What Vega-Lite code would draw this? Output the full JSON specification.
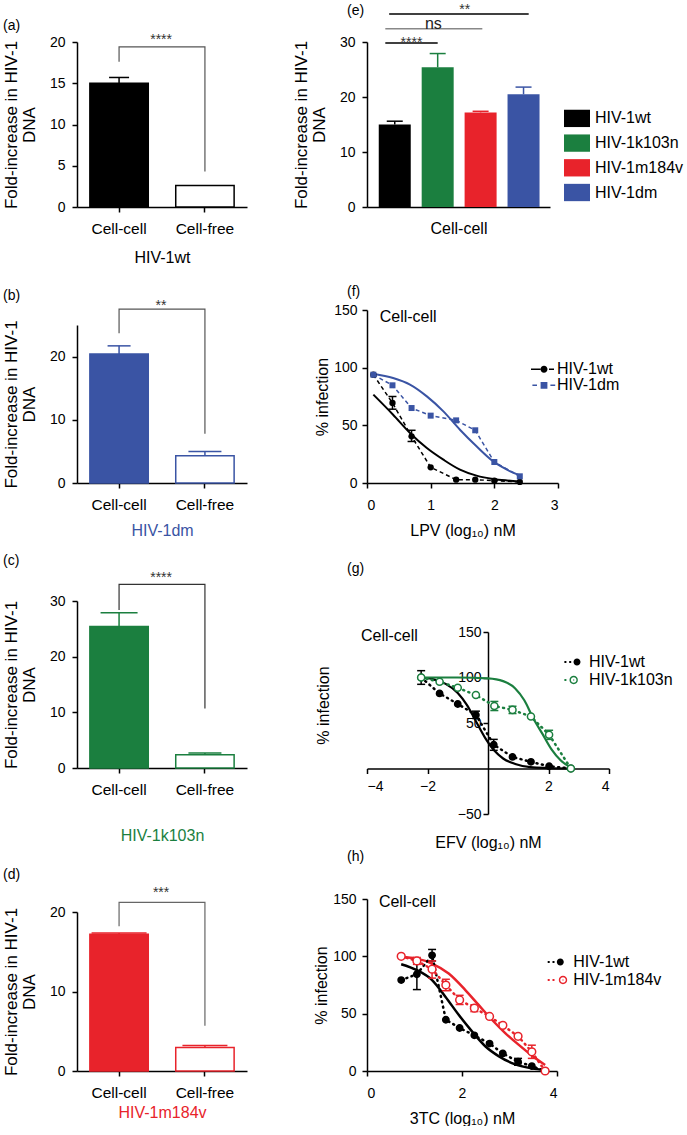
{
"$schema": "https://vega.github.io/schema/vega-lite/v6.json",
"padding": {"left": 2, "top": 3, "right": 0, "bottom": 0},
"background": "white",
"config": {
  "font": "Liberation Sans",
  "view": {"stroke": null},
  "axis": {"grid": false, "domainColor": "#000000", "domainWidth": 1.5, "tickColor": "#000000", "tickWidth": 1.5, "tickSize": 5,
    "labelColor": "#000000", "labelFontSize": 14, "titleFontSize": 16, "titleFontWeight": "normal", "titleColor": "#000000",
    "labelFont": "Liberation Sans", "titleFont": "Liberation Sans", "titleLineHeight": 18},
  "axisX": {"labelAngle": 0, "labelPadding": 9.5},
  "axisY": {"labelPadding": 7},
  "legend": {"padding": 0, "labelFont": "Liberation Sans", "labelColor": "#000000", "labelFontSize": 16},
  "title": {"fontSize": 14, "fontWeight": "normal", "anchor": "start", "frame": "group", "color": "#000000", "font": "Liberation Sans"},
  "text": {"font": "Liberation Sans"}
},
"datasets": {
  "a_bars": [{"condition": "Cell-cell", "value": 15.0, "upper": 15.7}, {"condition": "Cell-free", "value": 2.6}],
  "a_bracket": [{"condition": "Cell-cell", "y": 17.6, "seq": 1}, {"condition": "Cell-cell", "y": 19.4, "seq": 2}, {"condition": "Cell-free", "y": 19.4, "seq": 3}, {"condition": "Cell-free", "y": 4.3, "seq": 4}],
  "a_sig": [{"condition": "Cell-cell", "y": 20.8, "label": "****"}],
  "b_bars": [{"condition": "Cell-cell", "value": 20.4, "upper": 21.7}, {"condition": "Cell-free", "value": 4.3, "upper": 5.0}],
  "b_bracket": [{"condition": "Cell-cell", "y": 23.7, "seq": 1}, {"condition": "Cell-cell", "y": 27.5, "seq": 2}, {"condition": "Cell-free", "y": 27.5, "seq": 3}, {"condition": "Cell-free", "y": 7.8, "seq": 4}],
  "b_sig": [{"condition": "Cell-cell", "y": 28.7, "label": "**"}],
  "c_bars": [{"condition": "Cell-cell", "value": 25.4, "upper": 27.9}, {"condition": "Cell-free", "value": 2.4, "upper": 2.7}],
  "c_bracket": [{"condition": "Cell-cell", "y": 28.4, "seq": 1}, {"condition": "Cell-cell", "y": 33.0, "seq": 2}, {"condition": "Cell-free", "y": 33.0, "seq": 3}, {"condition": "Cell-free", "y": 10.7, "seq": 4}],
  "c_sig": [{"condition": "Cell-cell", "y": 35.0, "label": "****"}],
  "d_bars": [{"condition": "Cell-cell", "value": 17.2, "upper": 17.35}, {"condition": "Cell-free", "value": 2.95, "upper": 3.2}],
  "d_bracket": [{"condition": "Cell-cell", "y": 18.2, "seq": 1}, {"condition": "Cell-cell", "y": 21.2, "seq": 2}, {"condition": "Cell-free", "y": 21.2, "seq": 3}, {"condition": "Cell-free", "y": 5.7, "seq": 4}],
  "d_sig": [{"condition": "Cell-cell", "y": 22.9, "label": "***"}],
  "e_bars": [{"strain": "HIV-1wt", "pos": 1, "value": 15.0, "upper": 15.6}, {"strain": "HIV-1k103n", "pos": 2, "value": 25.4, "upper": 27.9}, {"strain": "HIV-1m184v", "pos": 3, "value": 17.2, "upper": 17.4}, {"strain": "HIV-1dm", "pos": 4, "value": 20.5, "upper": 21.8}],
  "e_sig": [{"x1": 0.78, "x2": 2.0, "y": 29.8, "lx": 1.39, "ly": 30.6, "label": "****"}, {"x1": 0.78, "x2": 3.04, "y": 32.4, "lx": 1.9, "ly": 33.4, "label": "ns"}, {"x1": 0.87, "x2": 4.12, "y": 35.1, "lx": 2.63, "ly": 36.6, "label": "**"}],
  "f_fit": [
    {"strain": "HIV-1wt", "x": 0.1, "y": 76.6}, {"strain": "HIV-1wt", "x": 0.41, "y": 59.2}, {"strain": "HIV-1wt", "x": 0.675, "y": 43.4}, {"strain": "HIV-1wt", "x": 0.94, "y": 30.3}, {"strain": "HIV-1wt", "x": 1.2, "y": 20.2}, {"strain": "HIV-1wt", "x": 1.46, "y": 11.6}, {"strain": "HIV-1wt", "x": 1.72, "y": 6.4}, {"strain": "HIV-1wt", "x": 1.98, "y": 3.5}, {"strain": "HIV-1wt", "x": 2.2, "y": 2.2}, {"strain": "HIV-1wt", "x": 2.4, "y": 1.4},
    {"strain": "HIV-1dm", "x": 0.1, "y": 94.8}, {"strain": "HIV-1dm", "x": 0.41, "y": 91}, {"strain": "HIV-1dm", "x": 0.675, "y": 85.3}, {"strain": "HIV-1dm", "x": 0.94, "y": 75.1}, {"strain": "HIV-1dm", "x": 1.2, "y": 62.1}, {"strain": "HIV-1dm", "x": 1.46, "y": 46.2}, {"strain": "HIV-1dm", "x": 1.72, "y": 31.8}, {"strain": "HIV-1dm", "x": 1.98, "y": 18.8}, {"strain": "HIV-1dm", "x": 2.25, "y": 10.1}, {"strain": "HIV-1dm", "x": 2.4, "y": 6.6}],
  "f_pts": [
    {"strain": "HIV-1wt", "x": 0.1, "y": 93.9}, {"strain": "HIV-1wt", "x": 0.4, "y": 69.4, "lo": 64, "hi": 75}, {"strain": "HIV-1wt", "x": 0.7, "y": 40.5, "lo": 36, "hi": 45.7}, {"strain": "HIV-1wt", "x": 1.0, "y": 13.6}, {"strain": "HIV-1wt", "x": 1.4, "y": 2.9}, {"strain": "HIV-1wt", "x": 1.7, "y": 2.9}, {"strain": "HIV-1wt", "x": 2.0, "y": 2.0}, {"strain": "HIV-1wt", "x": 2.4, "y": 0.9},
    {"strain": "HIV-1dm", "x": 0.1, "y": 93.9}, {"strain": "HIV-1dm", "x": 0.4, "y": 84.7}, {"strain": "HIV-1dm", "x": 0.7, "y": 65}, {"strain": "HIV-1dm", "x": 1.0, "y": 58.4}, {"strain": "HIV-1dm", "x": 1.4, "y": 54.3}, {"strain": "HIV-1dm", "x": 1.7, "y": 45.7}, {"strain": "HIV-1dm", "x": 2.0, "y": 18.2}, {"strain": "HIV-1dm", "x": 2.4, "y": 5.8}],
  "g_fit": [
    {"strain": "HIV-1wt", "x": -2.2, "y": 100}, {"strain": "HIV-1wt", "x": -1.8, "y": 98}, {"strain": "HIV-1wt", "x": -1.4, "y": 93}, {"strain": "HIV-1wt", "x": -1.0, "y": 83}, {"strain": "HIV-1wt", "x": -0.7, "y": 70}, {"strain": "HIV-1wt", "x": -0.4, "y": 52}, {"strain": "HIV-1wt", "x": -0.1, "y": 34}, {"strain": "HIV-1wt", "x": 0.2, "y": 20}, {"strain": "HIV-1wt", "x": 0.5, "y": 11}, {"strain": "HIV-1wt", "x": 0.9, "y": 5}, {"strain": "HIV-1wt", "x": 1.4, "y": 1.5}, {"strain": "HIV-1wt", "x": 2.0, "y": 0.5}, {"strain": "HIV-1wt", "x": 2.74, "y": 0},
    {"strain": "HIV-1k103n", "x": -2.2, "y": 100}, {"strain": "HIV-1k103n", "x": -1.0, "y": 100}, {"strain": "HIV-1k103n", "x": 0, "y": 99}, {"strain": "HIV-1k103n", "x": 0.5, "y": 96}, {"strain": "HIV-1k103n", "x": 0.9, "y": 88}, {"strain": "HIV-1k103n", "x": 1.2, "y": 75}, {"strain": "HIV-1k103n", "x": 1.5, "y": 55}, {"strain": "HIV-1k103n", "x": 1.8, "y": 38}, {"strain": "HIV-1k103n", "x": 2.1, "y": 21}, {"strain": "HIV-1k103n", "x": 2.4, "y": 9}, {"strain": "HIV-1k103n", "x": 2.74, "y": 1}],
  "g_pts": [
    {"strain": "HIV-1wt", "x": -2.21, "y": 100, "lo": 92.5, "hi": 107.5}, {"strain": "HIV-1wt", "x": -1.6, "y": 82.5}, {"strain": "HIV-1wt", "x": -1.0, "y": 70.9}, {"strain": "HIV-1wt", "x": -0.4, "y": 58.9, "lo": 55, "hi": 63}, {"strain": "HIV-1wt", "x": 0.19, "y": 26.2, "lo": 20, "hi": 32}, {"strain": "HIV-1wt", "x": 0.81, "y": 12.7}, {"strain": "HIV-1wt", "x": 1.42, "y": 7.3}, {"strain": "HIV-1wt", "x": 2.02, "y": 2.5}, {"strain": "HIV-1wt", "x": 2.74, "y": 0},
    {"strain": "HIV-1k103n", "x": -2.21, "y": 100}, {"strain": "HIV-1k103n", "x": -1.6, "y": 95.3}, {"strain": "HIV-1k103n", "x": -1.0, "y": 88.7}, {"strain": "HIV-1k103n", "x": -0.4, "y": 80.7}, {"strain": "HIV-1k103n", "x": 0.21, "y": 68.7, "lo": 63.7, "hi": 73.7}, {"strain": "HIV-1k103n", "x": 0.81, "y": 64.4, "lo": 60.4, "hi": 68.4}, {"strain": "HIV-1k103n", "x": 1.42, "y": 57.1}, {"strain": "HIV-1k103n", "x": 2.02, "y": 37.1, "lo": 32, "hi": 42}, {"strain": "HIV-1k103n", "x": 2.74, "y": 0}],
  "h_fit": [
    {"strain": "HIV-1wt", "x": 0.72, "y": 93.1}, {"strain": "HIV-1wt", "x": 1.05, "y": 87.9}, {"strain": "HIV-1wt", "x": 1.37, "y": 79.3}, {"strain": "HIV-1wt", "x": 1.65, "y": 64.8}, {"strain": "HIV-1wt", "x": 1.93, "y": 49}, {"strain": "HIV-1wt", "x": 2.21, "y": 34.6}, {"strain": "HIV-1wt", "x": 2.49, "y": 21.6}, {"strain": "HIV-1wt", "x": 2.77, "y": 13}, {"strain": "HIV-1wt", "x": 3.12, "y": 5.8}, {"strain": "HIV-1wt", "x": 3.47, "y": 2.3}, {"strain": "HIV-1wt", "x": 3.75, "y": 0.9},
    {"strain": "HIV-1m184v", "x": 0.72, "y": 99.4}, {"strain": "HIV-1m184v", "x": 1.05, "y": 98}, {"strain": "HIV-1m184v", "x": 1.37, "y": 93.7}, {"strain": "HIV-1m184v", "x": 1.72, "y": 85}, {"strain": "HIV-1m184v", "x": 2.07, "y": 70.6}, {"strain": "HIV-1m184v", "x": 2.35, "y": 57.6}, {"strain": "HIV-1m184v", "x": 2.63, "y": 44.7}, {"strain": "HIV-1m184v", "x": 2.91, "y": 33.1}, {"strain": "HIV-1m184v", "x": 3.19, "y": 23}, {"strain": "HIV-1m184v", "x": 3.47, "y": 13.5}, {"strain": "HIV-1m184v", "x": 3.75, "y": 5.2}],
  "h_pts": [
    {"strain": "HIV-1wt", "x": 0.72, "y": 79.3}, {"strain": "HIV-1wt", "x": 1.05, "y": 84.4, "lo": 71, "hi": 97.5}, {"strain": "HIV-1wt", "x": 1.37, "y": 100.9, "lo": 96, "hi": 106}, {"strain": "HIV-1wt", "x": 1.66, "y": 44.7}, {"strain": "HIV-1wt", "x": 1.95, "y": 37.5}, {"strain": "HIV-1wt", "x": 2.26, "y": 31.1}, {"strain": "HIV-1wt", "x": 2.58, "y": 23.9}, {"strain": "HIV-1wt", "x": 2.86, "y": 15.3}, {"strain": "HIV-1wt", "x": 3.18, "y": 8.1, "lo": 5, "hi": 11}, {"strain": "HIV-1wt", "x": 3.47, "y": 4.3}, {"strain": "HIV-1wt", "x": 3.75, "y": 0},
    {"strain": "HIV-1m184v", "x": 0.72, "y": 100}, {"strain": "HIV-1m184v", "x": 1.05, "y": 96, "lo": 93, "hi": 99}, {"strain": "HIV-1m184v", "x": 1.37, "y": 88.8, "lo": 81, "hi": 96}, {"strain": "HIV-1m184v", "x": 1.66, "y": 75, "lo": 70, "hi": 80}, {"strain": "HIV-1m184v", "x": 1.95, "y": 62, "lo": 58, "hi": 66}, {"strain": "HIV-1m184v", "x": 2.26, "y": 54.8, "lo": 51.8, "hi": 57.8}, {"strain": "HIV-1m184v", "x": 2.58, "y": 47.6}, {"strain": "HIV-1m184v", "x": 2.86, "y": 39.8}, {"strain": "HIV-1m184v", "x": 3.18, "y": 30.3}, {"strain": "HIV-1m184v", "x": 3.47, "y": 16.7, "lo": 11, "hi": 22.5}, {"strain": "HIV-1m184v", "x": 3.75, "y": 0}]
},
"bounds": "flush",
"spacing": 290,
"resolve": {"scale": {"color": "independent", "shape": "independent"}, "legend": {"color": "independent", "shape": "independent"}},
"hconcat": [
 {"bounds": "flush", "spacing": 870, "vconcat": [
  {"bounds": "flush", "spacing": 118, "vconcat": [
   {"width": 170, "height": 165, "title": {"text": "(a)", "dx": -74, "offset": 2, "dy": 2},
    "layer": [
     {"data": {"name": "a_bars"}, "mark": {"type": "bar", "strokeWidth": 1.5},
      "encoding": {
       "x": {"field": "condition", "type": "nominal", "scale": {"paddingInner": 0.32, "paddingOuter": 0.15}, "axis": {"title": "HIV-1wt", "titlePadding": 12, "titleColor": "#000000", "labelFontSize": 15.5}},
       "y": {"field": "value", "type": "quantitative", "scale": {"domain": [0, 20], "nice": false}, "axis": {"values": [0, 5, 10, 15, 20], "title": ["Fold-increase in HIV-1", "DNA"], "titleFontSize": 17, "titlePadding": 11}},
       "fill": {"condition": {"test": "datum.condition === 'Cell-cell'", "value": "#000000"}, "value": "#ffffff"},
       "stroke": {"value": "#000000"}}},
     {"data": {"name": "a_bars"}, "transform": [{"filter": "isValid(datum.upper)"}], "mark": {"type": "rule", "strokeWidth": 1.5, "color": "#000000"},
      "encoding": {"x": {"field": "condition", "type": "nominal"}, "y": {"field": "value", "type": "quantitative"}, "y2": {"field": "upper"}}},
     {"data": {"name": "a_bars"}, "transform": [{"filter": "isValid(datum.upper)"}], "mark": {"type": "tick", "orient": "horizontal", "size": 20, "thickness": 1.5, "color": "#000000", "opacity": 1},
      "encoding": {"x": {"field": "condition", "type": "nominal"}, "y": {"field": "upper", "type": "quantitative"}}},
     {"data": {"name": "a_bracket"}, "mark": {"type": "line", "color": "#555555", "strokeWidth": 1.2},
      "encoding": {"x": {"field": "condition", "type": "nominal"}, "y": {"field": "y", "type": "quantitative"}, "order": {"field": "seq", "type": "quantitative"}}},
     {"data": {"name": "a_sig"}, "mark": {"type": "text", "fontSize": 14, "dx": 42, "dy": 4.5, "color": "#333333"},
      "encoding": {"x": {"field": "condition", "type": "nominal"}, "y": {"field": "y", "type": "quantitative"}, "text": {"field": "label"}}}
    ]},
   {"width": 170, "height": 158, "title": {"text": "(b)", "dx": -74, "offset": 2, "dy": 6},
    "layer": [
     {"data": {"name": "b_bars"}, "mark": {"type": "bar", "strokeWidth": 1.5},
      "encoding": {
       "x": {"field": "condition", "type": "nominal", "scale": {"paddingInner": 0.32, "paddingOuter": 0.15}, "axis": {"title": "HIV-1dm", "titlePadding": 9, "titleColor": "#3A54A4", "labelFontSize": 15.5}},
       "y": {"field": "value", "type": "quantitative", "scale": {"domain": [0, 25], "nice": false}, "axis": {"values": [0, 5, 10, 15, 20, 25], "title": ["Fold-increase in HIV-1", "DNA"], "titleFontSize": 17, "titlePadding": 11}},
       "fill": {"condition": {"test": "datum.condition === 'Cell-cell'", "value": "#3A54A4"}, "value": "#ffffff"},
       "stroke": {"value": "#3A54A4"}}},
     {"data": {"name": "b_bars"}, "transform": [{"filter": "isValid(datum.upper)"}], "mark": {"type": "rule", "strokeWidth": 1.5, "color": "#3A54A4"},
      "encoding": {"x": {"field": "condition", "type": "nominal"}, "y": {"field": "value", "type": "quantitative"}, "y2": {"field": "upper"}}},
     {"data": {"name": "b_bars"}, "transform": [{"filter": "isValid(datum.upper)"}], "mark": {"type": "tick", "orient": "horizontal", "thickness": 1.5, "color": "#3A54A4", "opacity": 1},
      "encoding": {"x": {"field": "condition", "type": "nominal"}, "y": {"field": "upper", "type": "quantitative"}, "size": {"condition": {"test": "datum.condition === 'Cell-cell'", "value": 23}, "value": 33}}},
     {"data": {"name": "b_bracket"}, "mark": {"type": "line", "color": "#555555", "strokeWidth": 1.2},
      "encoding": {"x": {"field": "condition", "type": "nominal"}, "y": {"field": "y", "type": "quantitative"}, "order": {"field": "seq", "type": "quantitative"}}},
     {"data": {"name": "b_sig"}, "mark": {"type": "text", "fontSize": 14, "dx": 42, "dy": 4.5, "color": "#333333"},
      "encoding": {"x": {"field": "condition", "type": "nominal"}, "y": {"field": "y", "type": "quantitative"}, "text": {"field": "label"}}}
    ]},
   {"width": 170, "height": 167, "title": {"text": "(c)", "dx": -74, "offset": 2, "dy": -1},
    "layer": [
     {"data": {"name": "c_bars"}, "mark": {"type": "bar", "strokeWidth": 1.5},
      "encoding": {
       "x": {"field": "condition", "type": "nominal", "scale": {"paddingInner": 0.32, "paddingOuter": 0.15}, "axis": {"title": "HIV-1k103n", "titlePadding": 29, "titleColor": "#1B7F3F", "labelFontSize": 15.5}},
       "y": {"field": "value", "type": "quantitative", "scale": {"domain": [0, 30], "nice": false}, "axis": {"values": [0, 5, 10, 15, 20, 25, 30], "title": ["Fold-increase in HIV-1", "DNA"], "titleFontSize": 17, "titlePadding": 11}},
       "fill": {"condition": {"test": "datum.condition === 'Cell-cell'", "value": "#1B7F3F"}, "value": "#ffffff"},
       "stroke": {"value": "#1B7F3F"}}},
     {"data": {"name": "c_bars"}, "transform": [{"filter": "isValid(datum.upper)"}], "mark": {"type": "rule", "strokeWidth": 1.5, "color": "#1B7F3F"},
      "encoding": {"x": {"field": "condition", "type": "nominal"}, "y": {"field": "value", "type": "quantitative"}, "y2": {"field": "upper"}}},
     {"data": {"name": "c_bars"}, "transform": [{"filter": "isValid(datum.upper)"}], "mark": {"type": "tick", "orient": "horizontal", "thickness": 1.5, "color": "#1B7F3F", "opacity": 1},
      "encoding": {"x": {"field": "condition", "type": "nominal"}, "y": {"field": "upper", "type": "quantitative"}, "size": {"condition": {"test": "datum.condition === 'Cell-cell'", "value": 37}, "value": 33}}},
     {"data": {"name": "c_bracket"}, "mark": {"type": "line", "color": "#333333", "strokeWidth": 1.2},
      "encoding": {"x": {"field": "condition", "type": "nominal"}, "y": {"field": "y", "type": "quantitative"}, "order": {"field": "seq", "type": "quantitative"}}},
     {"data": {"name": "c_sig"}, "mark": {"type": "text", "fontSize": 14, "dx": 42, "dy": 4.5, "color": "#333333"},
      "encoding": {"x": {"field": "condition", "type": "nominal"}, "y": {"field": "y", "type": "quantitative"}, "text": {"field": "label"}}}
    ]}
  ]},
  {"width": 170, "height": 159, "title": {"text": "(d)", "dx": -74, "offset": 2, "dy": -2},
   "layer": [
    {"data": {"name": "d_bars"}, "mark": {"type": "bar", "strokeWidth": 1.5},
     "encoding": {
      "x": {"field": "condition", "type": "nominal", "scale": {"paddingInner": 0.32, "paddingOuter": 0.15}, "axis": {"title": "HIV-1m184v", "titlePadding": 3, "titleColor": "#E8232B", "labelFontSize": 15.5}},
      "y": {"field": "value", "type": "quantitative", "scale": {"domain": [0, 20], "nice": false}, "axis": {"values": [0, 5, 10, 15, 20], "title": ["Fold-increase in HIV-1", "DNA"], "titleFontSize": 17, "titlePadding": 11}},
      "fill": {"condition": {"test": "datum.condition === 'Cell-cell'", "value": "#E8232B"}, "value": "#ffffff"},
      "stroke": {"value": "#E8232B"}}},
    {"data": {"name": "d_bars"}, "transform": [{"filter": "isValid(datum.upper)"}], "mark": {"type": "rule", "strokeWidth": 1.5, "color": "#E8232B"},
     "encoding": {"x": {"field": "condition", "type": "nominal"}, "y": {"field": "value", "type": "quantitative"}, "y2": {"field": "upper"}}},
    {"data": {"name": "d_bars"}, "transform": [{"filter": "isValid(datum.upper)"}], "mark": {"type": "tick", "orient": "horizontal", "thickness": 1.5, "color": "#E8232B", "opacity": 1},
     "encoding": {"x": {"field": "condition", "type": "nominal"}, "y": {"field": "upper", "type": "quantitative"}, "size": {"condition": {"test": "datum.condition === 'Cell-cell'", "value": 55}, "value": 45}}},
    {"data": {"name": "d_bracket"}, "mark": {"type": "line", "color": "#666666", "strokeWidth": 1.2},
     "encoding": {"x": {"field": "condition", "type": "nominal"}, "y": {"field": "y", "type": "quantitative"}, "order": {"field": "seq", "type": "quantitative"}}},
    {"data": {"name": "d_sig"}, "mark": {"type": "text", "fontSize": 14, "dx": 42, "dy": 4.5, "color": "#333333"},
     "encoding": {"x": {"field": "condition", "type": "nominal"}, "y": {"field": "y", "type": "quantitative"}, "text": {"field": "label"}}}
   ]}
 ]},
 {"bounds": "flush", "spacing": 590,
  "resolve": {"scale": {"color": "independent", "shape": "independent"}, "legend": {"color": "independent", "shape": "independent"}},
  "vconcat": [
  {"bounds": "flush", "spacing": 103,
   "resolve": {"scale": {"color": "independent", "shape": "independent"}, "legend": {"color": "independent", "shape": "independent"}},
   "vconcat": [
   {"width": 183, "height": 165, "title": {"text": "(e)", "dx": -20, "offset": 2, "dy": 17},
    "layer": [
     {"data": {"name": "e_bars"}, "mark": {"type": "bar", "width": 32, "orient": "vertical", "opacity": 1},
      "encoding": {
       "x": {"field": "pos", "type": "quantitative", "scale": {"domain": [0.47, 4.5], "nice": false, "zero": false}, "axis": {"title": "Cell-cell", "labels": false, "ticks": false, "titlePadding": 13.5}},
       "y": {"field": "value", "type": "quantitative", "scale": {"domain": [0, 30], "nice": false}, "axis": {"values": [0, 5, 10, 15, 20, 25, 30], "title": ["Fold-increase in HIV-1", "DNA"], "titleFontSize": 17, "titlePadding": 11}},
       "color": {"field": "strain", "type": "nominal", "scale": {"domain": ["HIV-1wt", "HIV-1k103n", "HIV-1m184v", "HIV-1dm"], "range": ["#000000", "#1B7F3F", "#E8232B", "#3A54A4"]},
        "legend": {"title": null, "orient": "none", "legendX": 201, "legendY": 67.4, "symbolType": "M-1.5,-1H1.5V1H-1.5Z", "symbolSize": 300, "symbolStrokeWidth": 0, "symbolOpacity": 1, "labelFontSize": 16, "labelOffset": 9, "rowPadding": 6.7}}}},
     {"data": {"name": "e_bars"}, "mark": {"type": "rule", "strokeWidth": 1.5, "opacity": 1},
      "encoding": {"x": {"field": "pos", "type": "quantitative"}, "y": {"field": "value", "type": "quantitative"}, "y2": {"field": "upper"}, "color": {"field": "strain", "type": "nominal"}}},
     {"data": {"name": "e_bars"}, "mark": {"type": "tick", "orient": "horizontal", "size": 16, "thickness": 1.5, "opacity": 1},
      "encoding": {"x": {"field": "pos", "type": "quantitative"}, "y": {"field": "upper", "type": "quantitative"}, "color": {"field": "strain", "type": "nominal"}}},
     {"data": {"name": "e_sig"}, "mark": {"type": "rule", "strokeWidth": 1.5},
      "encoding": {"x": {"field": "x1", "type": "quantitative"}, "x2": {"field": "x2"}, "y": {"field": "y", "type": "quantitative"},
       "stroke": {"condition": {"test": "datum.label === 'ns'", "value": "#888888"}, "value": "#000000"}}},
     {"data": {"name": "e_sig"}, "transform": [{"filter": "datum.label !== 'ns'"}], "mark": {"type": "text", "fontSize": 14, "dy": 4.5, "color": "#333333"},
      "encoding": {"x": {"field": "lx", "type": "quantitative"}, "y": {"field": "ly", "type": "quantitative"}, "text": {"field": "label"}}},
     {"data": {"name": "e_sig"}, "transform": [{"filter": "datum.label === 'ns'"}], "mark": {"type": "text", "fontSize": 16, "dy": 1, "color": "#222222"},
      "encoding": {"x": {"field": "lx", "type": "quantitative"}, "y": {"field": "ly", "type": "quantitative"}, "text": {"field": "label"}}}
    ]},
   {"width": 191, "height": 173, "title": {"text": "(f)", "dx": -20, "offset": 2, "dy": -2},
    "encoding": {
     "x": {"field": "x", "type": "quantitative", "scale": {"domain": [0, 3], "nice": false, "zero": false}, "axis": {"values": [0, 1, 2, 3], "title": "LPV (log₁₀) nM", "titlePadding": 10, "labelPadding": 10}},
     "y": {"field": "y", "type": "quantitative", "scale": {"domain": [0, 150], "nice": false}, "axis": {"values": [0, 50, 100, 150], "title": "% infection", "titlePadding": 3, "labelPadding": 5}},
     "color": {"field": "strain", "type": "nominal", "scale": {"domain": ["HIV-1wt", "HIV-1dm"], "range": ["#000000", "#3A54A4"]},
      "legend": {"title": null, "orient": "none", "legendX": 169, "legendY": 51.3, "symbolSize": 64, "symbolStrokeWidth": 0, "symbolOpacity": 1, "labelFontSize": 16, "labelOffset": 5, "rowPadding": -1}}
    },
    "layer": [
     {"data": {"name": "f_pts"}, "mark": {"type": "point", "filled": true, "opacity": 0, "size": 64},
      "encoding": {"shape": {"field": "strain", "type": "nominal", "legend": null, "scale": {"domain": ["HIV-1wt", "HIV-1dm"], "range": [
        "M-3.25,-0.19H-0.9V0.19H-3.25ZM1.25,-0.19H2.5V0.19H1.25ZM-0.875,0A0.875,0.875,0,1,1,0.875,0A0.875,0.875,0,1,1,-0.875,0Z",
        "M-2.9,-0.19H-1.75V0.19H-2.9ZM1.6,-0.19H2.8V0.19H1.6ZM-0.85,-0.85H0.85V0.85H-0.85Z"]}}}},
     {"data": {"name": "f_fit"}, "mark": {"type": "line", "strokeWidth": 2, "interpolate": "monotone"}},
     {"data": {"name": "f_pts"}, "mark": {"type": "line", "strokeWidth": 1.5, "strokeDash": [4, 3]}},
     {"data": {"name": "f_pts"}, "transform": [{"filter": "isValid(datum.lo)"}], "mark": {"type": "rule", "strokeWidth": 1.5},
      "encoding": {"y": {"field": "lo", "type": "quantitative"}, "y2": {"field": "hi"}}},
     {"data": {"name": "f_pts"}, "transform": [{"filter": "isValid(datum.lo)"}, {"fold": ["lo", "hi"], "as": ["end", "ev"]}], "mark": {"type": "tick", "orient": "horizontal", "size": 8, "thickness": 1.5, "opacity": 1},
      "encoding": {"y": {"field": "ev", "type": "quantitative"}}},
     {"data": {"name": "f_pts"}, "transform": [{"filter": "datum.strain === 'HIV-1wt'"}], "mark": {"type": "point", "filled": true, "opacity": 1, "shape": "circle", "size": 40}},
     {"data": {"name": "f_pts"}, "transform": [{"filter": "datum.strain === 'HIV-1dm'"}], "mark": {"type": "point", "filled": true, "opacity": 1, "shape": "square", "size": 36}},
     {"data": {"values": [{"x": 0.2, "y": 144, "label": "Cell-cell"}]}, "mark": {"type": "text", "align": "left", "baseline": "middle", "fontSize": 16},
      "encoding": {"text": {"field": "label"}, "color": {"value": "#000000"}}}
    ]}
  ]},
  {"bounds": "flush", "spacing": 85,
   "resolve": {"scale": {"color": "independent", "shape": "independent"}, "legend": {"color": "independent", "shape": "independent"}},
   "vconcat": [
   {"width": 242, "height": 182, "title": {"text": "(g)", "dx": -20, "offset": 2, "dy": -47},
    "encoding": {
     "x": {"field": "x", "type": "quantitative", "scale": {"domain": [-4, 4], "nice": false, "zero": false}, "axis": {"values": [-4, -2, 2, 4], "offset": -45.5, "title": "EFV (log₁₀) nM", "titlePadding": 41, "labelPadding": 6}},
     "y": {"field": "y", "type": "quantitative", "scale": {"domain": [-50, 150], "nice": false}, "axis": {"values": [-50, 50, 100, 150], "offset": -121, "title": "% infection", "labelPadding": 2, "titleX": -157, "titleY": 73}},
     "color": {"field": "strain", "type": "nominal", "scale": {"domain": ["HIV-1wt", "HIV-1k103n"], "range": ["#000000", "#1B7F3F"]},
      "legend": {"title": null, "orient": "none", "legendX": 202, "legendY": 22, "symbolSize": 64, "symbolStrokeWidth": 0, "symbolOpacity": 1, "labelFontSize": 16, "labelOffset": 4, "rowPadding": 2}}
    },
    "layer": [
     {"data": {"name": "g_pts"}, "mark": {"type": "point", "filled": true, "opacity": 0, "size": 64},
      "encoding": {"shape": {"field": "strain", "type": "nominal", "legend": null, "scale": {"domain": ["HIV-1wt", "HIV-1k103n"], "range": [
        "M-3.15,-0.25h0.5v0.5h-0.5zM-1.95,-0.25h0.5v0.5h-0.5zM-0.875,0A0.875,0.875,0,1,1,0.875,0A0.875,0.875,0,1,1,-0.875,0Z",
        "M-3.15,-0.25h0.5v0.5h-0.5zM-1.88,0A1.05,1.05,0,1,1,0.22,0A1.05,1.05,0,1,1,-1.88,0ZM-1.53,0A0.7,0.7,0,1,0,-0.13,0A0.7,0.7,0,1,0,-1.53,0ZM-0.98,-0.15h0.3v0.3h-0.3z"]}}}},
     {"data": {"name": "g_fit"}, "mark": {"type": "line", "strokeWidth": 2.2, "interpolate": "monotone"}},
     {"data": {"name": "g_pts"}, "mark": {"type": "line", "strokeWidth": 2.5, "strokeDash": [1, 4.5], "strokeCap": "round"}},
     {"data": {"name": "g_pts"}, "transform": [{"filter": "isValid(datum.lo)"}], "mark": {"type": "rule", "strokeWidth": 1.5},
      "encoding": {"y": {"field": "lo", "type": "quantitative"}, "y2": {"field": "hi"}}},
     {"data": {"name": "g_pts"}, "transform": [{"filter": "isValid(datum.lo)"}, {"fold": ["lo", "hi"], "as": ["end", "ev"]}], "mark": {"type": "tick", "orient": "horizontal", "size": 8, "thickness": 1.5, "opacity": 1},
      "encoding": {"y": {"field": "ev", "type": "quantitative"}}},
     {"data": {"name": "g_pts"}, "mark": {"type": "point", "filled": false, "opacity": 1, "strokeWidth": 1.5, "shape": "circle"},
      "encoding": {"fill": {"condition": {"test": "datum.strain === 'HIV-1wt'", "value": "#000000"}, "value": "#ffffff"},
       "size": {"condition": {"test": "datum.strain === 'HIV-1wt'", "value": 40}, "value": 50}}},
     {"data": {"values": [{"x": -4.2, "y": 146, "label": "Cell-cell"}]}, "mark": {"type": "text", "align": "left", "baseline": "middle", "fontSize": 16},
      "encoding": {"text": {"field": "label"}, "color": {"value": "#000000"}}}
    ]},
   {"width": 190, "height": 172, "title": {"text": "(h)", "dx": -20, "offset": 2, "dy": -26},
    "encoding": {
     "x": {"field": "x", "type": "quantitative", "scale": {"domain": [0, 4], "nice": false, "zero": false}, "axis": {"values": [0, 2, 4], "title": "3TC (log₁₀) nM", "titlePadding": 10, "labelPadding": 10}},
     "y": {"field": "y", "type": "quantitative", "scale": {"domain": [0, 150], "nice": false}, "axis": {"values": [0, 50, 100, 150], "title": "% infection", "titlePadding": 3, "labelPadding": 6}},
     "color": {"field": "strain", "type": "nominal", "scale": {"domain": ["HIV-1wt", "HIV-1m184v"], "range": ["#000000", "#E8232B"]},
      "legend": {"title": null, "orient": "none", "legendX": 185.3, "legendY": 55, "symbolSize": 64, "symbolStrokeWidth": 0, "symbolOpacity": 1, "labelFontSize": 16, "labelOffset": 5, "rowPadding": 2}}
    },
    "layer": [
     {"data": {"name": "h_pts"}, "mark": {"type": "point", "filled": true, "opacity": 0, "size": 64},
      "encoding": {"shape": {"field": "strain", "type": "nominal", "legend": null, "scale": {"domain": ["HIV-1wt", "HIV-1m184v"], "range": [
        "M-3.15,-0.25h0.5v0.5h-0.5zM-1.95,-0.25h0.5v0.5h-0.5zM-0.875,0A0.875,0.875,0,1,1,0.875,0A0.875,0.875,0,1,1,-0.875,0Z",
        "M-3.15,-0.25h0.5v0.5h-0.5zM-1.95,-0.25h0.5v0.5h-0.5zM-0.375,0A1.05,1.05,0,1,1,1.725,0A1.05,1.05,0,1,1,-0.375,0ZM-0.025,0A0.7,0.7,0,1,0,1.375,0A0.7,0.7,0,1,0,-0.025,0ZM0.525,-0.15h0.3v0.3h-0.3z"]}}}},
     {"data": {"name": "h_fit"}, "mark": {"type": "line", "strokeWidth": 2.5, "interpolate": "monotone"}},
     {"data": {"name": "h_pts"}, "mark": {"type": "line", "strokeWidth": 2.5, "strokeDash": [1, 4.5], "strokeCap": "round"}},
     {"data": {"name": "h_pts"}, "transform": [{"filter": "isValid(datum.lo)"}], "mark": {"type": "rule", "strokeWidth": 1.5},
      "encoding": {"y": {"field": "lo", "type": "quantitative"}, "y2": {"field": "hi"}}},
     {"data": {"name": "h_pts"}, "transform": [{"filter": "isValid(datum.lo)"}, {"fold": ["lo", "hi"], "as": ["end", "ev"]}], "mark": {"type": "tick", "orient": "horizontal", "size": 8, "thickness": 1.5, "opacity": 1},
      "encoding": {"y": {"field": "ev", "type": "quantitative"}}},
     {"data": {"name": "h_pts"}, "mark": {"type": "point", "filled": false, "opacity": 1, "strokeWidth": 1.5, "shape": "circle"},
      "encoding": {"fill": {"condition": {"test": "datum.strain === 'HIV-1wt'", "value": "#000000"}, "value": "#ffffff"},
       "size": {"condition": {"test": "datum.strain === 'HIV-1wt'", "value": 40}, "value": 60}}},
     {"data": {"values": [{"x": 0.25, "y": 147, "label": "Cell-cell"}]}, "mark": {"type": "text", "align": "left", "baseline": "middle", "fontSize": 16},
      "encoding": {"text": {"field": "label"}, "color": {"value": "#000000"}}}
    ]}
  ]}
 ]}
]
}
